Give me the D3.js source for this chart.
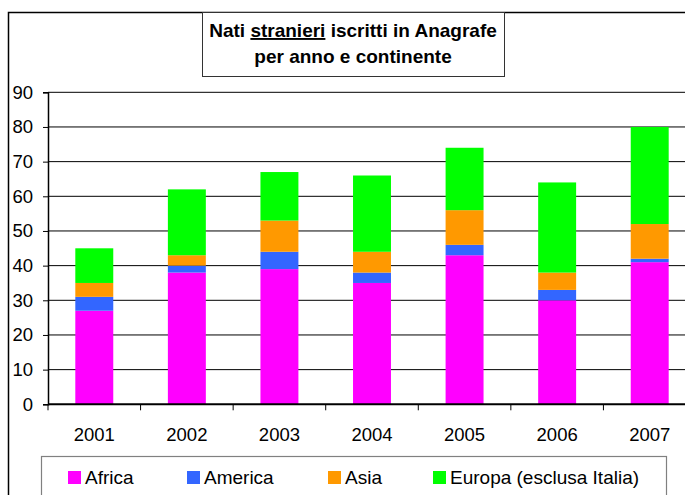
<!DOCTYPE html>
<html><head><meta charset="utf-8">
<script src="https://cdn.jsdelivr.net/npm/d3@7/dist/d3.min.js"></script>
<style>html,body{margin:0;padding:0;background:#fff;overflow:hidden}</style>
</head><body>
<svg id="c" width="685" height="495"></svg>
<script>
const years = ["2001","2002","2003","2004","2005","2006","2007"];
const seriesNames = ["Africa","America","Asia","Europa (esclusa Italia)"];
const africa  = [27,38,39,35,43,30,41];
const america = [4,2,5,3,3,3,1];
const asia    = [4,3,9,6,10,5,10];
const europa  = [10,19,14,22,18,26,28];
const yTicks = [0,10,20,30,40,50,60,70,80,90];
const colors = ["#FF00FF","#3366FF","#FF9900","#00FF00"];

const rows = years.map((y,i)=>({year:y, Africa:africa[i], America:america[i], Asia:asia[i], "Europa (esclusa Italia)":europa[i]}));
const stack = d3.stack().keys(seriesNames)(rows);

const svg = d3.select("#c");
const font = "'Liberation Sans', Arial, Helvetica, sans-serif";

// outer frame
svg.append("rect").attr("x",8.5).attr("y",12.5).attr("width",1000).attr("height",1000)
  .attr("fill","#fff").attr("stroke","#000").attr("stroke-width",1.5);

const x = d3.scaleBand().domain(years).range([48,696]).paddingInner(0.59).paddingOuter(0.295);
const y = d3.scaleLinear().domain([0,90]).range([404.3,92.3]);

// gridlines
svg.append("g").selectAll("line").data(yTicks.filter(t=>t>0)).join("line")
  .attr("x1",48).attr("x2",696).attr("y1",d=>y(d)).attr("y2",d=>y(d))
  .attr("stroke","#000").attr("stroke-width",1);

// bars
svg.append("g").selectAll("g").data(stack).join("g").attr("fill",(d,i)=>colors[i])
  .selectAll("rect").data(d=>d).join("rect")
  .attr("x",d=>x(d.data.year)).attr("width",x.bandwidth())
  .attr("y",d=>y(d[1])).attr("height",d=>y(d[0])-y(d[1]));

// y axis
const yAxis = d3.axisLeft(y).tickValues(yTicks).tickSize(5).tickPadding(10);
const gy = svg.append("g").attr("transform","translate(48,0)").call(yAxis);
gy.select(".domain").attr("stroke","#000").attr("stroke-width",1.5);
gy.selectAll(".tick line").attr("stroke","#000");
gy.selectAll(".tick text").attr("font-family",font).attr("font-size",18.5).attr("fill","#000");

// x axis with ticks at band boundaries
const step = x.step();
const xb = d3.scaleLinear().domain([0,years.length]).range([48,48+step*years.length]);
const gx = svg.append("g").attr("transform","translate(0,404.3)");
gx.append("line").attr("x1",48).attr("x2",696).attr("stroke","#000").attr("stroke-width",2);
gx.selectAll("line.t").data(d3.range(years.length+1)).join("line").attr("class","t")
  .attr("x1",d=>xb(d)).attr("x2",d=>xb(d)).attr("y1",0).attr("y2",6).attr("stroke","#000");
gx.selectAll("text").data(years).join("text")
  .attr("x",d=>x(d)+x.bandwidth()/2).attr("y",37)
  .attr("text-anchor","middle").attr("font-family",font).attr("font-size",18.5).text(d=>d);

// title box
svg.append("rect").attr("x",202.5).attr("y",12.5).attr("width",302).attr("height",64)
  .attr("fill","#fff").attr("stroke","#333").attr("stroke-width",1);
const t1 = svg.append("text").attr("x",353).attr("y",37).attr("text-anchor","middle")
  .attr("font-family",font).attr("font-weight","bold").attr("font-size",19);
t1.append("tspan").text("Nati ");
t1.append("tspan").attr("text-decoration","underline").text("stranieri");
t1.append("tspan").text(" iscritti in Anagrafe");
svg.append("text").attr("x",353).attr("y",63).attr("text-anchor","middle")
  .attr("font-family",font).attr("font-weight","bold").attr("font-size",19).text("per anno e continente");

// legend
svg.append("rect").attr("x",41.5).attr("y",456.5).attr("width",625).attr("height",100)
  .attr("fill","#fff").attr("stroke","#808080").attr("stroke-width",1.2);
const legX = [68,187,328,433];
const lg = svg.append("g").selectAll("g").data(seriesNames).join("g")
  .attr("transform",(d,i)=>`translate(${legX[i]},0)`);
lg.append("rect").attr("x",0).attr("y",471).attr("width",13).attr("height",13).attr("fill",(d,i)=>colors[i]);
lg.append("text").attr("x",17).attr("y",484).attr("font-family",font).attr("font-size",19).text(d=>d);
</script>
</body></html>
